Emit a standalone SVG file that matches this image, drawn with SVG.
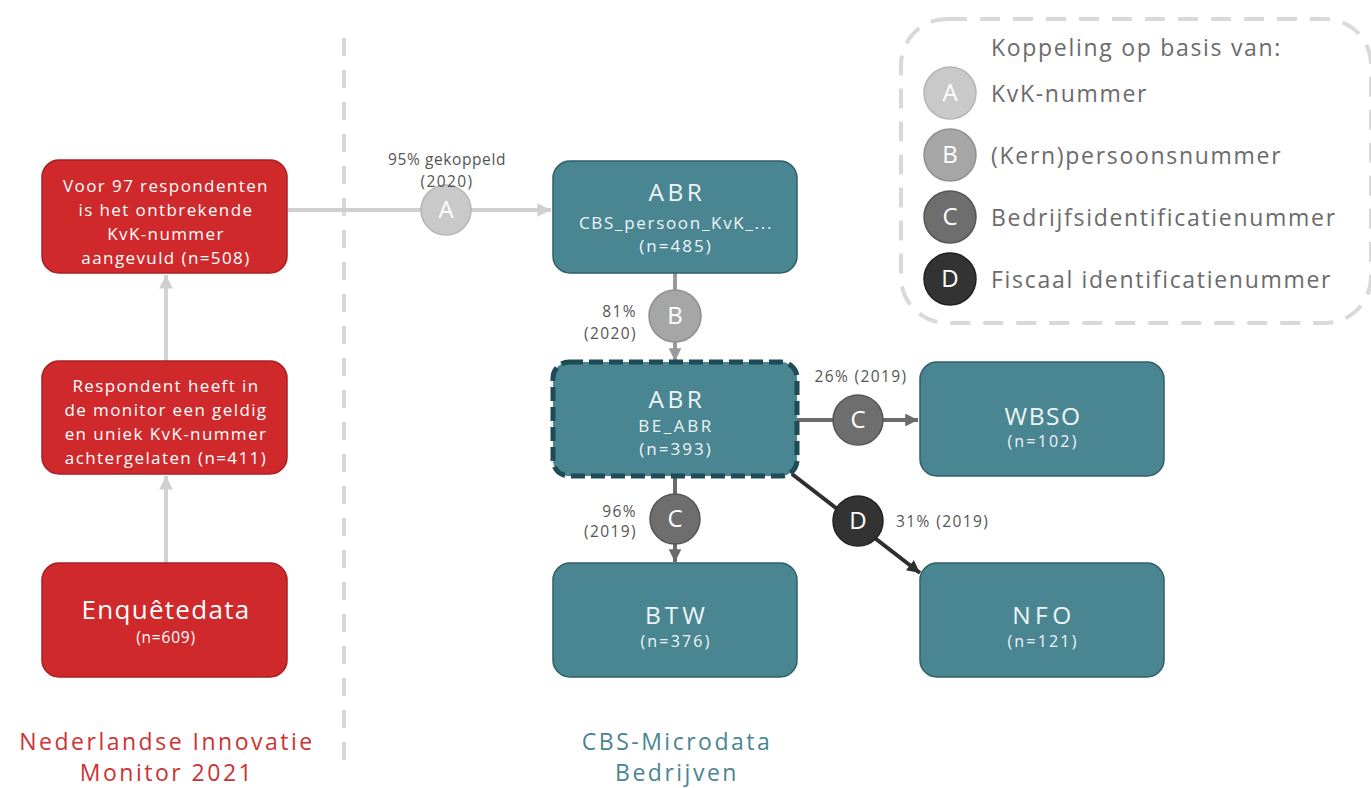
<svg xmlns="http://www.w3.org/2000/svg" width="1371" height="788" viewBox="0 0 1371 788">
<defs>
<style>
text{font-family:"Open Sans","Liberation Sans",sans-serif;}
.red{fill:#d0292c;stroke:#a82023;stroke-width:1.5;}
.teal{fill:#4a8592;stroke:#2f5f69;stroke-width:1.5;}
.wt{fill:#ffffff;text-anchor:middle;}
.tl{fill:#eef5f6;text-anchor:middle;}
.big{font-size:24.5px;letter-spacing:3.5px;}
.sub{font-size:16px;letter-spacing:2.2px;}
.lbl{fill:#555555;font-size:15.5px;letter-spacing:1.4px;}
.leg{fill:#6b6b6b;font-size:23px;letter-spacing:1.7px;}
.ctext{fill:#ffffff;font-size:24px;text-anchor:middle;}
.cline{fill:none;stroke-width:4;}
.title{font-size:23px;letter-spacing:2.5px;text-anchor:middle;}
</style>
<marker id="mLight" viewBox="0 0 10 10" refX="10" refY="5" markerWidth="3.4" markerHeight="3.4" orient="auto" markerUnits="strokeWidth"><path d="M0,0L10,5L0,10z" fill="#cfcfcf"/></marker>
<marker id="mB" viewBox="0 0 10 10" refX="10" refY="5" markerWidth="3.2" markerHeight="3.2" orient="auto" markerUnits="strokeWidth"><path d="M0,0L10,5L0,10z" fill="#9a9a9a"/></marker>
<marker id="mC" viewBox="0 0 10 10" refX="10" refY="5" markerWidth="3.2" markerHeight="3.2" orient="auto" markerUnits="strokeWidth"><path d="M0,0L10,5L0,10z" fill="#6b6b6b"/></marker>
<marker id="mD" viewBox="0 0 10 10" refX="10" refY="5" markerWidth="3.2" markerHeight="3.2" orient="auto" markerUnits="strokeWidth"><path d="M0,0L10,5L0,10z" fill="#2f2f2f"/></marker>
</defs>
<rect width="1371" height="788" fill="#ffffff"/>

<!-- divider -->
<line x1="344" y1="38" x2="344" y2="772" stroke="#d9d9d9" stroke-width="4" stroke-dasharray="18 14"/>

<!-- legend -->
<g id="legend">
<rect x="901" y="19" width="470" height="304" rx="46" fill="none" stroke="#d9d9d9" stroke-width="4" stroke-dasharray="20 13"/>
<text class="leg" x="991" y="56">Koppeling op basis van:</text>
<circle cx="950" cy="93" r="26" fill="#c9c9c9" stroke="#b5b5b5" stroke-width="1.5"/>
<text class="ctext" x="950" y="101">A</text>
<text class="leg" x="991" y="102">KvK-nummer</text>
<circle cx="950" cy="155" r="26" fill="#a6a6a6" stroke="#909090" stroke-width="1.5"/>
<text class="ctext" x="950" y="163">B</text>
<text class="leg" x="991" y="164">(Kern)persoonsnummer</text>
<circle cx="950" cy="217" r="26" fill="#6e6e6e" stroke="#555555" stroke-width="1.5"/>
<text class="ctext" x="950" y="225">C</text>
<text class="leg" x="991" y="226">Bedrijfsidentificatienummer</text>
<circle cx="950" cy="279" r="26" fill="#333333" stroke="#222222" stroke-width="1.5"/>
<text class="ctext" x="950" y="287">D</text>
<text class="leg" x="991" y="288">Fiscaal identificatienummer</text>
</g>

<!-- connectors -->
<g id="connectors">
<line class="cline" x1="166" y1="563" x2="166" y2="476" stroke="#d3d3d3" marker-end="url(#mLight)"/>
<line class="cline" x1="166" y1="361" x2="166" y2="275" stroke="#d3d3d3" marker-end="url(#mLight)"/>
<line class="cline" x1="288" y1="210" x2="551" y2="210" stroke="#cfcfcf" marker-end="url(#mLight)"/>
<line class="cline" x1="675" y1="273" x2="675" y2="361" stroke="#9a9a9a" marker-end="url(#mB)"/>
<line class="cline" x1="797" y1="420" x2="918" y2="420" stroke="#6b6b6b" marker-end="url(#mC)"/>
<line class="cline" x1="675" y1="477" x2="675" y2="562" stroke="#6b6b6b" marker-end="url(#mC)"/>
<line class="cline" x1="792" y1="474" x2="920" y2="573" stroke="#2f2f2f" marker-end="url(#mD)"/>

<circle cx="446" cy="210" r="25" fill="#c9c9c9" stroke="#b5b5b5" stroke-width="1.5"/>
<text class="ctext" x="446" y="218">A</text>
<text class="lbl" x="447" y="165" text-anchor="middle" style="letter-spacing:0.6px">95% gekoppeld</text>
<text class="lbl" x="447" y="187" text-anchor="middle">(2020)</text>

<circle cx="675" cy="316" r="26" fill="#a6a6a6" stroke="#909090" stroke-width="1.5"/>
<text class="ctext" x="675" y="324">B</text>
<text class="lbl" x="637" y="317" text-anchor="end">81%</text>
<text class="lbl" x="637" y="339" text-anchor="end">(2020)</text>

<circle cx="858" cy="420" r="25" fill="#6e6e6e" stroke="#555555" stroke-width="1.5"/>
<text class="ctext" x="858" y="428">C</text>
<text class="lbl" x="861" y="382" text-anchor="middle">26% (2019)</text>

<circle cx="675" cy="519" r="25" fill="#6e6e6e" stroke="#555555" stroke-width="1.5"/>
<text class="ctext" x="675" y="527">C</text>
<text class="lbl" x="637" y="517" text-anchor="end">96%</text>
<text class="lbl" x="637" y="537" text-anchor="end">(2019)</text>

<circle cx="858" cy="521" r="25" fill="#333333" stroke="#222222" stroke-width="1.5"/>
<text class="ctext" x="858" y="529">D</text>
<text class="lbl" x="896" y="527">31% (2019)</text>
</g>

<!-- red nodes -->
<g id="node-aangevuld">
<rect class="red" x="42" y="160" width="245" height="113" rx="17"/>
<text class="wt" font-size="17" letter-spacing="1.4"><tspan x="166" y="192">Voor 97 respondenten</tspan><tspan x="166" y="216">is het ontbrekende</tspan><tspan x="166" y="240">KvK-nummer</tspan><tspan x="166" y="264">aangevuld (n=508)</tspan></text>
</g>
<g id="node-respondent">
<rect class="red" x="42" y="361" width="245" height="113" rx="17"/>
<text class="wt" font-size="17" letter-spacing="1.4"><tspan x="166" y="392">Respondent heeft in</tspan><tspan x="166" y="416">de monitor een geldig</tspan><tspan x="166" y="440">en uniek KvK-nummer</tspan><tspan x="166" y="464">achtergelaten (n=411)</tspan></text>
</g>
<g id="node-enquete">
<rect class="red" x="42" y="563" width="245" height="114" rx="17"/>
<text class="wt" x="166" y="619" font-size="26" letter-spacing="1.3">Enquêtedata</text>
<text class="wt" x="166" y="643" font-size="15.5" letter-spacing="0.8">(n=609)</text>
</g>

<!-- teal nodes -->
<g id="node-abr1">
<rect class="teal" x="553" y="161" width="244" height="112" rx="17"/>
<text class="tl big" x="677" y="201">ABR</text>
<text class="tl" x="676" y="229" font-size="17" letter-spacing="1.7">CBS_persoon_KvK_...</text>
<text class="tl" x="676" y="252" font-size="17" letter-spacing="2">(n=485)</text>
</g>
<g id="node-abr2">
<rect x="553" y="362" width="244" height="114" rx="16" fill="#4a8592" stroke="#1f4b56" stroke-width="5" stroke-dasharray="14 6"/>
<text class="tl big" x="677" y="408">ABR</text>
<text class="tl" x="676" y="432" font-size="17" letter-spacing="2.6">BE_ABR</text>
<text class="tl" x="676" y="455" font-size="17" letter-spacing="2">(n=393)</text>
</g>
<g id="node-wbso">
<rect class="teal" x="920" y="362" width="244" height="114" rx="17"/>
<text class="tl big" x="1043" y="425" style="letter-spacing:1.5px">WBSO</text>
<text class="tl sub" x="1043" y="447">(n=102)</text>
</g>
<g id="node-btw">
<rect class="teal" x="553" y="563" width="244" height="114" rx="17"/>
<text class="tl big" x="677" y="624" style="letter-spacing:4px">BTW</text>
<text class="tl sub" x="676" y="647">(n=376)</text>
</g>
<g id="node-nfo">
<rect class="teal" x="920" y="563" width="244" height="114" rx="17"/>
<text class="tl big" x="1044" y="624" style="letter-spacing:4.5px">NFO</text>
<text class="tl sub" x="1043" y="647">(n=121)</text>
</g>

<!-- section titles -->
<g id="titles">
<text class="title" x="167" y="749.5" fill="#cc3333">Nederlandse Innovatie</text>
<text class="title" x="167" y="781" fill="#cc3333">Monitor 2021</text>
<text class="title" x="677" y="749.5" fill="#4a8592">CBS-Microdata</text>
<text class="title" x="677" y="781" fill="#4a8592">Bedrijven</text>
</g>
</svg>
